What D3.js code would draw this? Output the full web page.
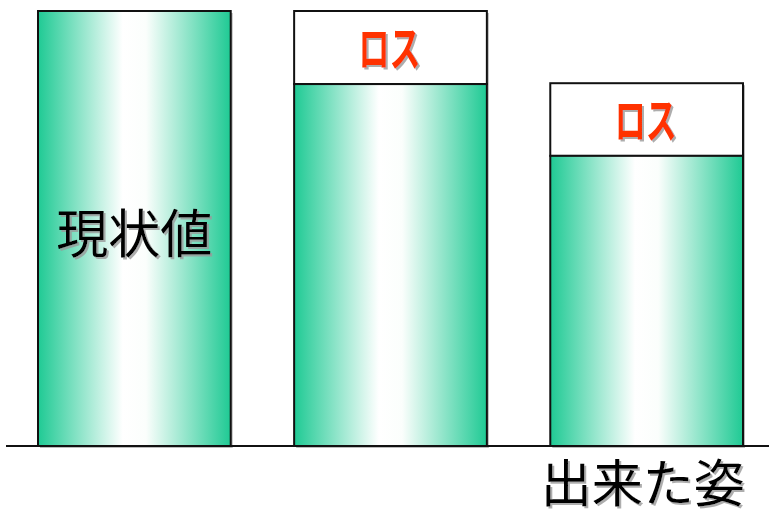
<!DOCTYPE html>
<html>
<head>
<meta charset="utf-8">
<script src="https://cdn.jsdelivr.net/npm/d3@7"></script>
<style>
  body { margin: 0; background: #fff; }
  svg text { font-family: "Noto Sans CJK JP", sans-serif; }
</style>
</head>
<body>
<div id="chart"></div>
<script>
// data
var categories = ["現状値", "改善後", "出来た姿"];
var greenValues = [100, 83.2, 66.7];
var lossValues = [0, 16.8, 16.7];
var innerLabels = ["現状値", "", ""];
var lossLabel = "ロス";
var bottomLabel = "出来た姿";

var width = 769, height = 511;
var margin = {top: 11, bottom: 65};

var svg = d3.select("#chart").append("svg")
    .attr("width", width)
    .attr("height", height);

var defs = svg.append("defs");

// horizontal gradient for bars
var grad = defs.append("linearGradient")
    .attr("id", "barGrad")
    .attr("x1", "0%").attr("x2", "100%")
    .attr("y1", "0%").attr("y2", "0%");
grad.append("stop").attr("offset", "0%").attr("stop-color", "#1fca94");
grad.append("stop").attr("offset", "44%").attr("stop-color", "#ffffff");
grad.append("stop").attr("offset", "56%").attr("stop-color", "#fbfefc");
grad.append("stop").attr("offset", "100%").attr("stop-color", "#1fca94");

// soft grey text shadow
var shadow = defs.append("filter")
    .attr("id", "txtShadow")
    .attr("x", "-10%").attr("y", "-10%")
    .attr("width", "130%").attr("height", "130%");
shadow.append("feDropShadow")
    .attr("dx", 2).attr("dy", 2)
    .attr("stdDeviation", 0.6)
    .attr("flood-color", "#999")
    .attr("flood-opacity", 0.8);

var x = d3.scaleBand()
    .domain(categories)
    .range([38, 743])
    .paddingInner(0.2476)
    .paddingOuter(0);

var y = d3.scaleLinear()
    .domain([0, 100])
    .range([height - margin.bottom, margin.top]);

var bars = svg.selectAll("g.bar")
    .data(categories)
    .enter().append("g")
    .attr("class", "bar");

// bar shadow
bars.append("rect")
    .attr("x", function(d) { return x(d) + 2; })
    .attr("y", function(d, i) { return y(greenValues[i] + lossValues[i]) + 2; })
    .attr("width", x.bandwidth())
    .attr("height", function(d, i) { return y(0) - y(greenValues[i] + lossValues[i]); })
    .attr("fill", "#bbb");

// loss box
bars.filter(function(d, i) { return lossValues[i] > 0; })
    .append("rect")
    .attr("x", function(d) { return x(d); })
    .attr("y", function(d) { var i = categories.indexOf(d); return y(greenValues[i] + lossValues[i]); })
    .attr("width", x.bandwidth())
    .attr("height", function(d) { var i = categories.indexOf(d); return y(greenValues[i]) - y(greenValues[i] + lossValues[i]); })
    .attr("fill", "#fff")
    .attr("stroke", "#111")
    .attr("stroke-width", 2);

// green part
bars.append("rect")
    .attr("x", function(d) { return x(d); })
    .attr("y", function(d, i) { return y(greenValues[i]); })
    .attr("width", x.bandwidth())
    .attr("height", function(d, i) { return y(0) - y(greenValues[i]); })
    .attr("fill", "url(#barGrad)")
    .attr("stroke", "#111")
    .attr("stroke-width", 2);

// baseline
svg.append("line")
    .attr("x1", 6).attr("x2", width)
    .attr("y1", y(0)).attr("y2", y(0))
    .attr("stroke", "#111")
    .attr("stroke-width", 2);

function label(px, py, txt, size, color, weight, len) {
  var t = svg.append("text")
      .attr("x", px).attr("y", py)
      .attr("text-anchor", "middle")
      .attr("font-size", size)
      .attr("font-weight", weight)
      .attr("fill", color)
      .attr("filter", "url(#txtShadow)")
      .text(txt);
  if (len) t.attr("textLength", len).attr("lengthAdjust", "spacingAndGlyphs");
  return t;
}

categories.forEach(function(c, i) {
  var cx = x(c) + x.bandwidth() / 2;
  if (innerLabels[i]) {
    label(cx, y(50) + 24, innerLabels[i], 52, "#000", "normal");
  }
  if (lossValues[i] > 0) {
    var mid = (y(greenValues[i]) + y(greenValues[i] + lossValues[i])) / 2;
    label(cx - 1, mid + 18, lossLabel, 48, "#ff3300", "bold", 62);
  }
});

// bottom label
label(x(categories[2]) + x.bandwidth() / 2 - 4, 502, bottomLabel, 51, "#000", "normal");
</script>
</body>
</html>
